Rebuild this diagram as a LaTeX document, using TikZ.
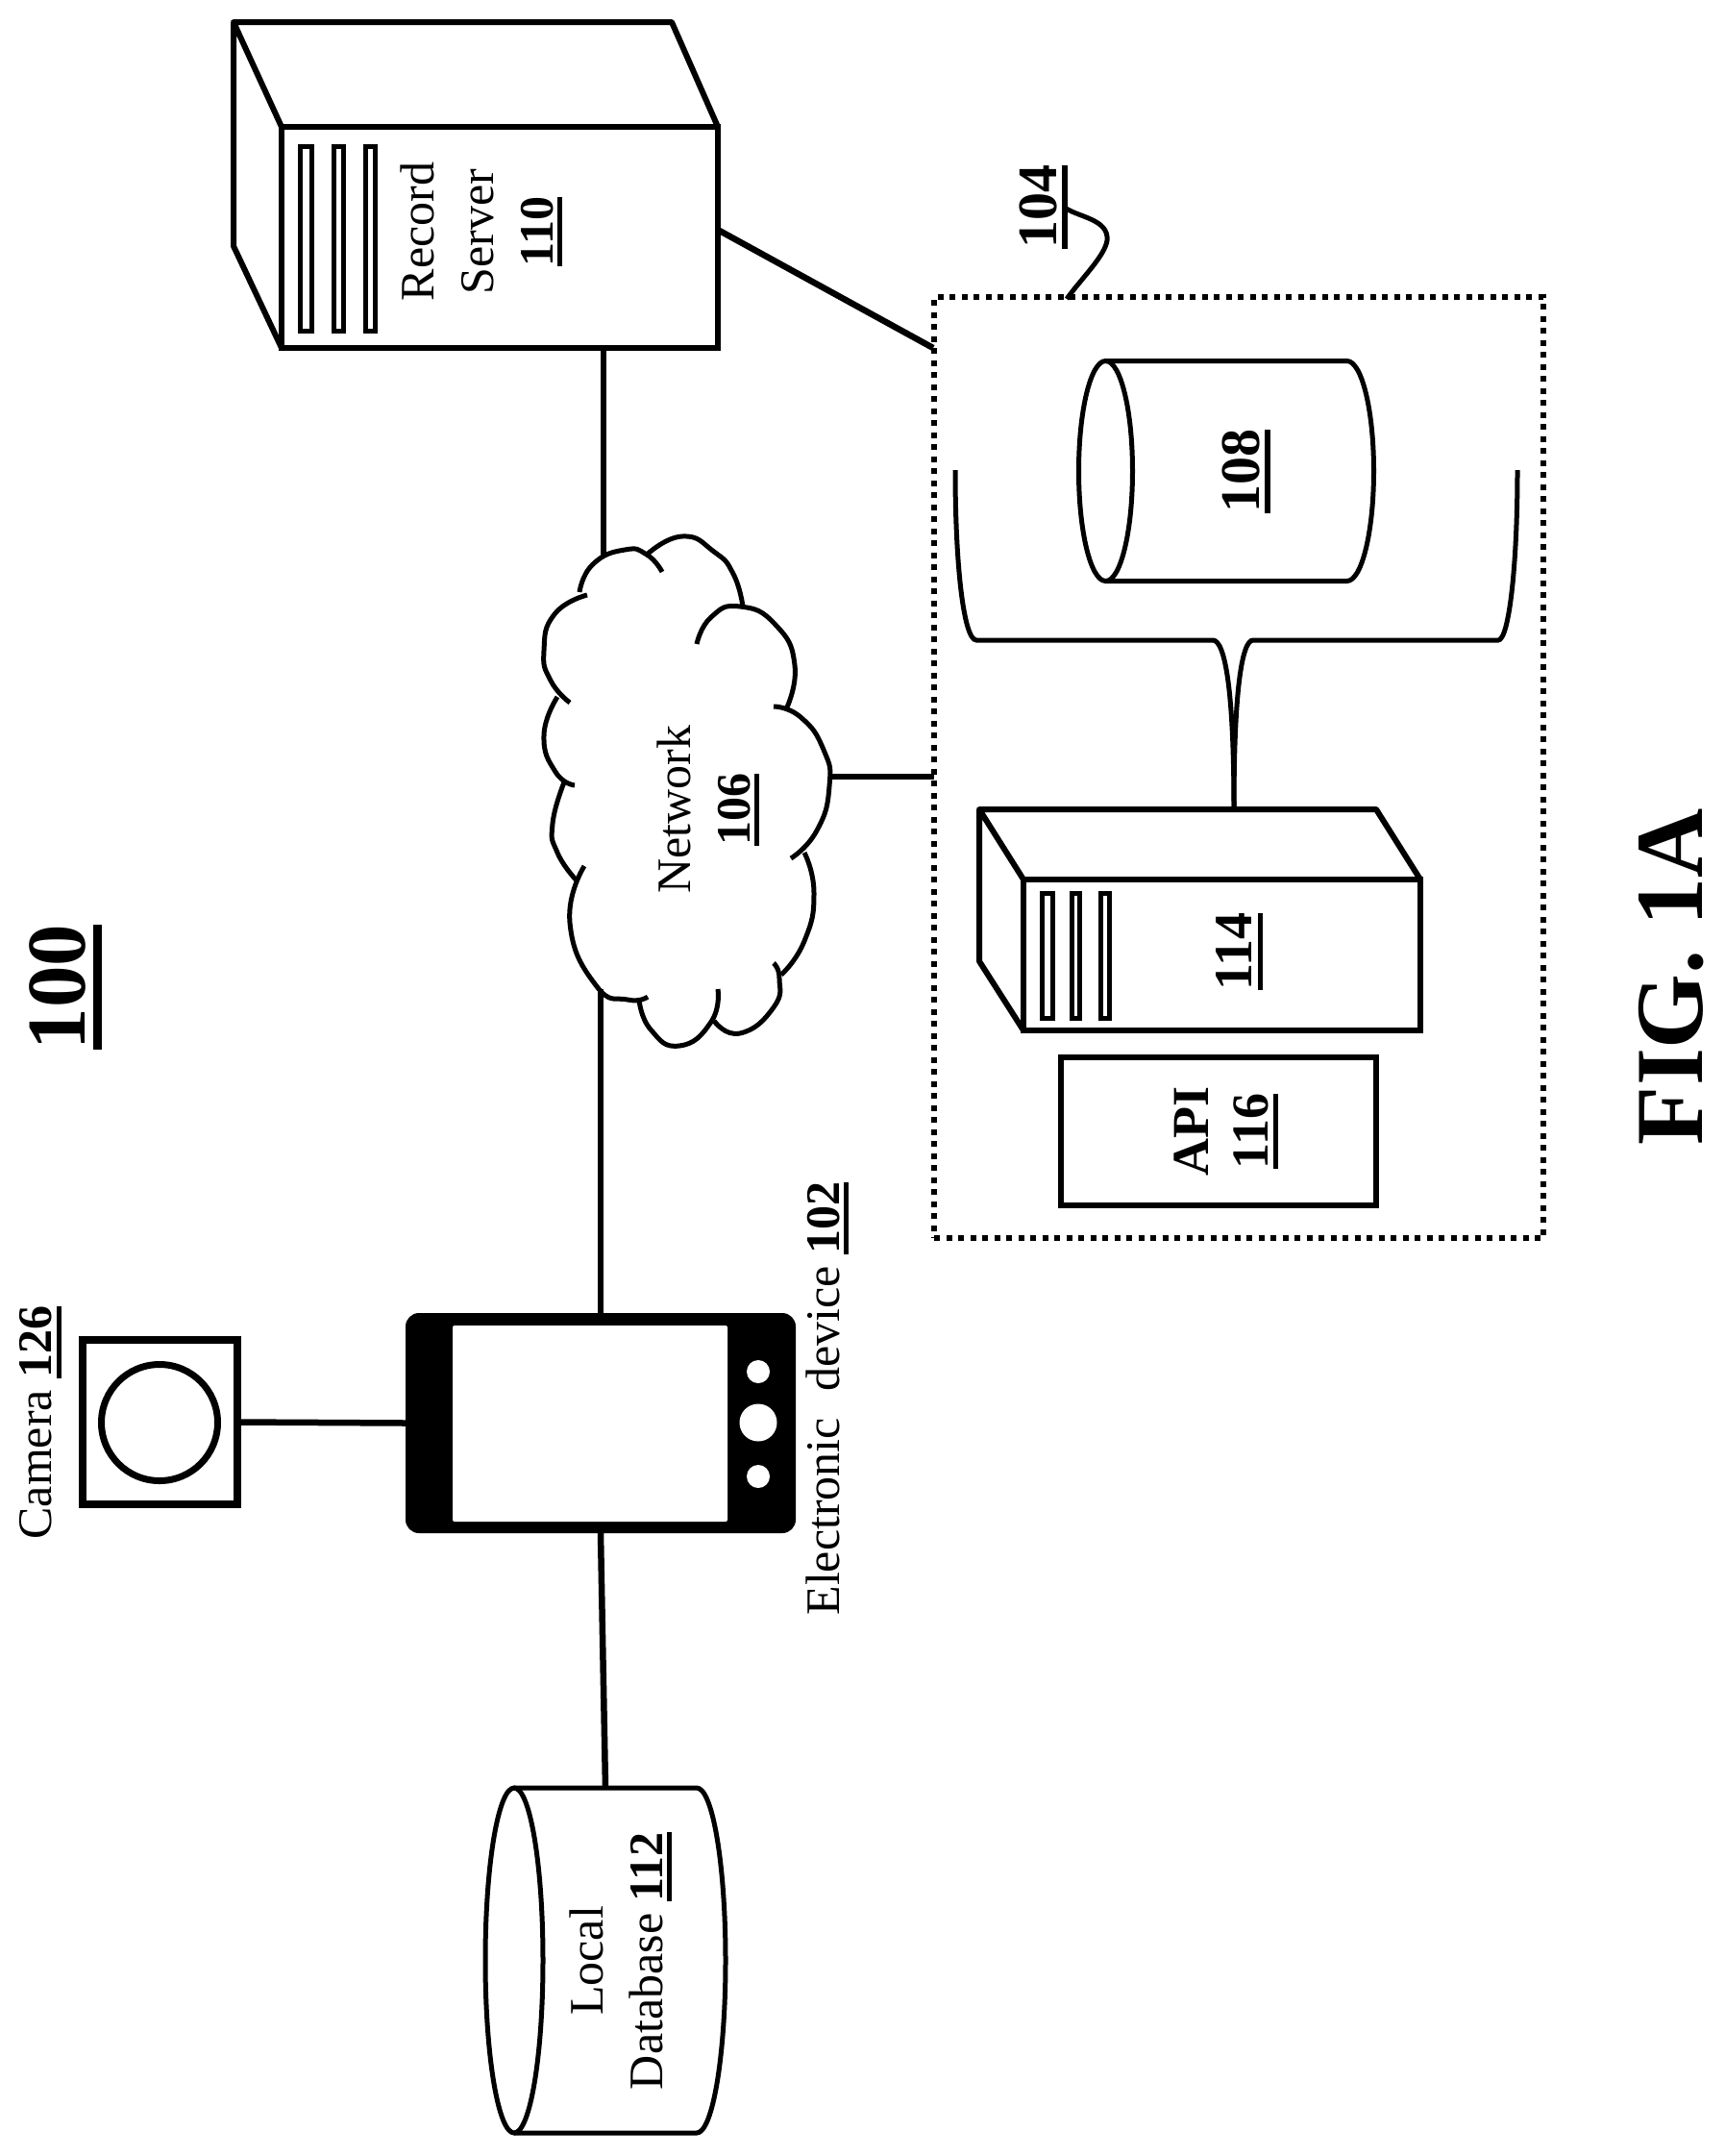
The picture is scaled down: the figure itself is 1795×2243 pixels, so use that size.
\documentclass[tikz,border=0pt]{standalone}
\usepackage{fontspec}
\setmainfont{Liberation Serif}
\usetikzlibrary{calc}

\newcommand{\unum}[1]{\setbox0\hbox{\bfseries #1}\rlap{\rule[-.2em]{\wd0}{.1em}}\box0}
\newcommand{\lblsize}[1]{\fontsize{#1}{62}\selectfont}
\newcommand{\canbody}[3]{%
  \draw[line width=5pt] ($(#1.west)+(#2,0)$) ellipse [x radius=#2pt, y radius=#3pt];
  \draw[line width=5pt] ($(#1.north west)+(#2,0)$) -- ($(#1.north east)+(-#2,0)$)
    arc [start angle=90, end angle=-90, x radius=#2pt, y radius=#3pt] -- ($(#1.south west)+(#2,0)$);
}

\tikzset{
  lbl/.style={rotate=90, align=center, inner sep=0pt, outer sep=0pt, font=\lblsize{50}},
  boxed/.style={shape=rectangle, draw, line width=6pt, inner sep=0pt, outer sep=0pt},
  barbox/.style={shape=rectangle, draw, line width=5pt, inner sep=0pt, outer sep=0pt},
  link/.style={draw, line width=6.5pt},
  can/.style={shape=rectangle, inner sep=0pt, outer sep=0pt},
  puff/.style={line width=5pt},
}

\begin{document}
\begin{tikzpicture}[x=1pt, y=-1pt]
    \useasboundingbox (0,0) rectangle (1795,2243);

    \node[name=title, lbl, font=\lblsize{87}\bfseries] at (68,1027) {\unum{100}};
    \node[name=figlabel, lbl, font=\lblsize{100}\bfseries] at (1739,1016) {FIG. 1A};

    \node[name=server,
      boxed,
      minimum width=454,
      minimum height=230] at (520,247) {};
    \draw[line width=6pt, line join=round] (server.north west) -- ++(-50,-109) -- ++(456,0) -- (server.north east)
      ++(-504,-109) -- ++(0,233) -- (server.south west);
    \foreach \barname/\barx/\barw in {a/318.5/12, b/352.5/10, c/385.5/10}
      \node[name=srvbar\barname, barbox, minimum width=\barw, minimum height=192] at (\barx,248.5) {};
    \node[name=serverlabel, lbl] at (501,241) {Record\\Server\\\unum{110}};

    \node[name=box,
      shape=rectangle,
      draw,
      line width=6pt,
      dash pattern=on 6pt off 6.5pt,
      inner sep=0pt,
      outer sep=0pt,
      minimum width=634,
      minimum height=979] at (1289,798.5) {};

    \node[name=boxlabel, lbl, font=\lblsize{58}\bfseries] at (1086,215) {\unum{104}};
    \coordinate (leader) at (1108,216);
    \draw[line width=5pt] (leader) .. controls (1122,226) and (1154,228) .. (1152,250)
      .. controls (1150,266) and (1125,290) .. (1110,311);

    \node[name=store, can, minimum width=307, minimum height=229] at (1276,490) {};
    \canbody{store}{28}{114.5}
    \node[name=storelabel, lbl, font=\lblsize{58}\bfseries] at (1297,490) {\unum{108}};

    \coordinate (stem) at (1284,842);
    \draw[line width=5pt] (994,489) .. controls (994,590) and (1003,666) .. (1016,666) -- (1262,666)
      .. controls (1275,666) and (1284,720) .. (stem);
    \draw[line width=5pt] (1579,489) .. controls (1579,590) and (1570,666) .. (1559,666) -- (1304,666)
      .. controls (1292,666) and (1284,720) .. (stem);

    \node[name=appsrv,
      boxed,
      minimum width=413,
      minimum height=157] at (1271.5,993.5) {};
    \draw[line width=6pt, line join=round] (appsrv.north west) -- ++(-46,-73) -- ++(413,0) -- (appsrv.north east)
      ++(-459,-73) -- ++(0,158) -- (appsrv.south west);
    \foreach \barname/\barx/\barw in {a/1090/11, b/1119.5/8, c/1150/9}
      \node[name=appbar\barname, barbox, minimum width=\barw, minimum height=130] at (\barx,994.5) {};
    \node[name=applabel, lbl, font=\lblsize{56}\bfseries] at (1290,990) {\unum{114}};

    \node[name=api,
      boxed,
      minimum width=328,
      minimum height=154] at (1267.5,1177) {};
    \node[name=apilabel, lbl, font=\lblsize{54}\bfseries] at (1276,1177) {API\\\unum{116}};

    \coordinate (cloudtop) at (628,578);
    \coordinate (cloudbot) at (625,1029);
    \coordinate (cloudport) at (866,808);
    \coordinate (boxport) at (971,362);

    \draw[puff] plot[smooth, tension=.9] coordinates {(603,616) (617,587) (650,572) (673,577) (689,595)};
    \draw[puff] plot[smooth, tension=.9] coordinates {(673,577) (710,558) (743,574) (763,597) (773,631)};
    \draw[puff] plot[smooth, tension=.9] coordinates {(725,670) (740,642) (770,631) (807,650) (827,692) (818,738)};
    \draw[puff] plot[smooth, tension=.9] coordinates {(805,735) (833,746) (857,780) (863,818) (850,864) (823,893)};
    \draw[puff] plot[smooth, tension=.9] coordinates {(837,887) (847,929) (837,979) (813,1014)};
    \draw[puff] plot[smooth, tension=.9] coordinates {(805,1002) (811,1018) (805,1048) (770,1075) (743,1062)};
    \draw[puff] plot[smooth, tension=.9] coordinates {(747,1029) (740,1063) (707,1088) (677,1071) (665,1040)};
    \draw[puff] plot[smooth, tension=.9] coordinates {(674,1037) (653,1040) (620,1025) (593,960) (608,901)};
    \draw[puff] plot[smooth, tension=.9] coordinates {(600,916) (580,887) (575,857) (587,814)};
    \draw[puff] plot[smooth, tension=.9] coordinates {(598,817) (578,803) (566,765) (580,725)};
    \draw[puff] plot[smooth, tension=.9] coordinates {(593,731) (573,708) (566,677) (577,639) (611,619)};
    \node[name=cloudlabel, lbl] at (737,842) {Network\\\unum{106}};

    \node[name=phone,
      shape=rectangle,
      rounded corners=14pt,
      fill=black,
      inner sep=0pt,
      outer sep=0pt,
      minimum width=406,
      minimum height=229] at (625,1480.5) {};
    \node[name=screen,
      shape=rectangle,
      rounded corners=2pt,
      fill=white,
      inner sep=0pt,
      outer sep=0pt,
      minimum width=286,
      minimum height=204] at (614,1481) {};
    \foreach \dotname/\doty/\dotd in {a/1427/24, b/1480/39, c/1536/24}
      \node[name=phonedot\dotname, shape=circle, fill=white, inner sep=0pt, minimum size=\dotd] at (789,\doty) {};
    \node[name=phonelabel, lbl] at (861,1455) {Electronic\hspace{.3em} device \unum{102}};

    \node[name=camera,
      boxed,
      line width=8pt,
      minimum width=161,
      minimum height=171] at (166.5,1479.5) {};
    \node[name=lens, shape=circle, draw, line width=7pt, inner sep=0pt, outer sep=0pt, minimum size=121] at (166,1480) {};
    \node[name=cameralabel, lbl] at (42,1480) {Camera \unum{126}};

    \node[name=localdb, can, minimum width=250, minimum height=359] at (630,2039.5) {};
    \canbody{localdb}{30}{179.5}
    \node[name=localdblabel, lbl] at (646,2040) {Local\\Database \unum{112}};

    \path (server.2.5) edge[link] (boxport);
    \path (cloudtop |- server.south) edge[link] (cloudtop);
    \path (cloudport) edge[link] (cloudport -| box.west);
    \path (cloudbot) edge[link] (phone.north);
    \path (camera.east) edge[link] (phone.west);
    \path (phone.south) edge[link] (localdb.north);
  \end{tikzpicture}
\end{document}
